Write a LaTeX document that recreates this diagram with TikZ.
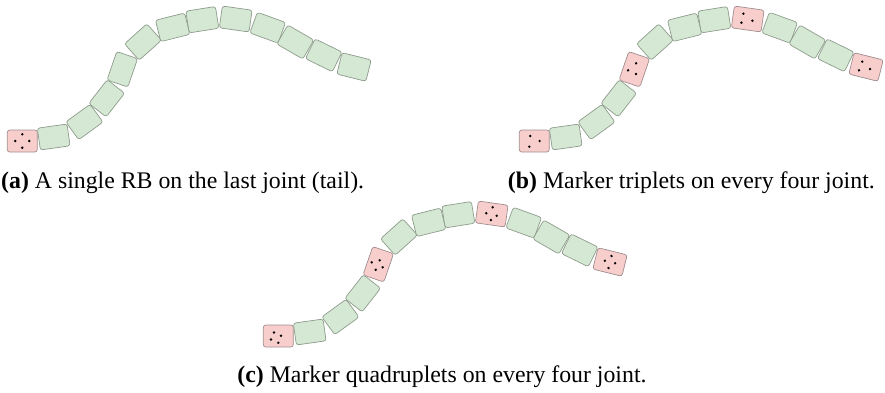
\documentclass[tikz,border=0pt]{standalone}
\usepackage{fontspec}
\setmainfont{Liberation Serif}
\definecolor{gfill}{HTML}{D5E8D4}
\definecolor{gline}{HTML}{8E9C8C}
\definecolor{rfill}{HTML}{F8CECC}
\definecolor{rline}{HTML}{A08E8E}
\tikzset{
  gblk/.style={draw=gline, fill=gfill, line width=0.7pt, rounded corners=2.5pt,
    minimum width=30pt, minimum height=22pt, inner sep=0pt},
  rblk/.style={gblk, draw=rline, fill=rfill},
  capt/.style={font=\fontsize{23.8}{27}\selectfont, inner sep=0pt}
}
\newcommand{\chainrow}[4]{%
  \foreach \i/\x/\y/\a in {1/22.3/141/0, 2/53.7/137/8, 3/84.4/122/36,
      4/106.7/98.3/52, 5/122.3/69.3/71, 6/143/42/42, 7/172.7/27.3/14,
      8/202.3/19.7/9, 9/235.7/19/-8, 10/267.7/27.7/-20, 11/295.3/42/-30,
      12/323.7/55.3/-26, 13/354/67/-14}{%
    \pgfmathtruncatemacro\isred{#4==0 ? (\i==1) : (mod(\i-1,4)==0)}%
    \ifnum\isred=1 \def\sty{rblk}\else\def\sty{gblk}\fi
    \begin{scope}[shift={(\x+#2,\y+#3)},rotate=\a]
      \node[\sty,transform shape] (#1\i) at (0,0) {};
    \end{scope}
  }%
}
\newcommand{\markers}[3]{%
  \begin{scope}[shift={(#1.center)},rotate=#2]
    \foreach \dx/\dy in {#3} \fill (\dx,\dy) circle[radius=1.35pt];
  \end{scope}%
}
\begin{document}
\begin{tikzpicture}[x=1pt,y=-1pt]
\useasboundingbox (0,0) rectangle (885,392);
% (a)
\chainrow{a}{0}{0}{0}
\markers{a1}{0}{0/-6.7, -7/0, 7/0, 0/6.7}
\node[capt, anchor=base west] (capa) at (1,188) {\textbf{(a)} A single RB on the last joint (tail).};
% (b)
\chainrow{b}{512}{0}{1}
\markers{b1}{0}{-4/-5, 5.3/0, -5/5.7}
\markers{b5}{71}{-3/-5.6, 6.2/-0.35, -3.9/3.1}
\markers{b9}{-8}{-5/-4.7, 4.9/1, -5.7/4.5}
\markers{b13}{-14}{-4.9/-4.3, 4.4/1, -6/4.9}
\node[capt, anchor=base east] (capb) at (875,188) {\textbf{(b)} Marker triplets on every four joint.};
% (c)
\chainrow{c}{256}{195}{2}
\markers{c1}{0}{-4.3/-3.5, 2.7/-0.2, -7.3/3.5, 0/6.8}
\markers{c5}{71}{-0.3/-6.9, 4.2/0, -1.4/5.1, -6/-0.7}
\markers{c9}{-8}{0/-6.8, -5.5/0, 5.2/1, 0/6.1}
\markers{c13}{-14}{0/-6.2, -5.3/0, 5.3/0, 0/6.2}
\node[capt, anchor=base] (capc) at (442,382) {\textbf{(c)} Marker quadruplets on every four joint.};
\end{tikzpicture}
\end{document}
